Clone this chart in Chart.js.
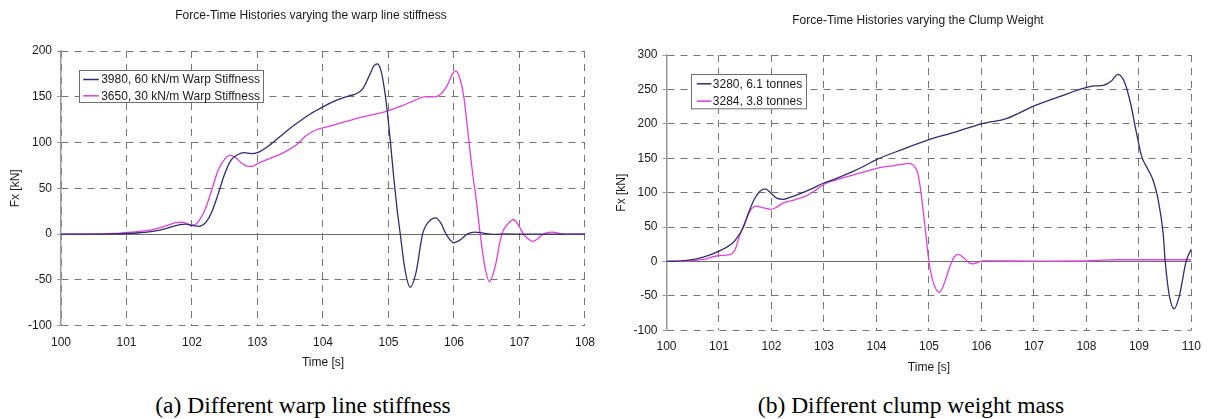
<!DOCTYPE html>
<html>
<head>
<meta charset="utf-8">
<title>Force-Time Histories</title>
<script src="https://cdn.jsdelivr.net/npm/chart.js@4.4.1/dist/chart.umd.min.js"></script>
<style>
  html, body { margin: 0; padding: 0; background: #fff; }
  body { width: 1210px; height: 419px; position: relative; overflow: hidden; }
  .panel { position: absolute; top: 0; width: 605px; }
  #panel-a { left: 0; height: 372px; }
  #panel-b { left: 605px; height: 376px; }
  .caption {
    position: absolute; top: 393px; line-height: 24px;
    font-family: "Liberation Serif", "Times New Roman", serif; font-size: 23.5px;
    color: #000; white-space: nowrap; transform: translateX(-50%);
  }
</style>
</head>
<body>
<div class="panel" id="panel-a"><canvas id="chart-a"></canvas></div>
<div class="panel" id="panel-b"><canvas id="chart-b"></canvas></div>
<div class="caption" style="left:303px">(a) Different warp line stiffness</div>
<div class="caption" style="left:911px">(b) Different clump weight mass</div>

<script>
/* Force-time histories of the mooring line, two panels:
   (a) warp line stiffness, (b) clump weight */

// ---- (a) warp stiffness runs ----
const warpTime60 = [100, 100.5, 100.8, 101.0, 101.2, 101.4, 101.6, 101.8, 101.9, 102.0,
  102.1, 102.2, 102.3, 102.4, 102.5, 102.6, 102.7, 102.8, 102.9, 103.0,
  103.2, 103.4, 103.6, 103.8, 104.0, 104.2, 104.4, 104.5, 104.6, 104.7,
  104.78, 104.83, 104.88, 104.93, 104.98, 105.03, 105.08, 105.13, 105.18, 105.25,
  105.33, 105.42, 105.52, 105.62, 105.72, 105.8, 105.88, 106.0, 106.12, 106.2,
  106.32, 106.45, 106.6, 106.8, 107.0, 107.5, 108.0];
const warpForce60 = [0, 0, 0.2, 0.7, 1.5, 3, 6, 10, 11, 9.5,
  8.5, 12, 24, 44, 66, 81, 87, 89, 88, 89,
  98, 110, 121, 131, 139, 146, 151, 153, 158, 172,
  184, 186, 180, 162, 135, 100, 62, 28, 0, -38,
  -58, -42, 0, 14, 17.8, 12, 0, -9.4, -5, 0,
  2.3, 1, -0.3, 0.2, 0, 0, 0];

const warpTime30 = [100, 100.6, 100.8, 101.0, 101.2, 101.4, 101.6, 101.75, 101.85, 101.95,
  102.03, 102.1, 102.2, 102.3, 102.4, 102.5, 102.58, 102.66, 102.75, 102.85,
  102.92, 103.0, 103.2, 103.4, 103.6, 103.75, 103.9, 104.0, 104.2, 104.4,
  104.6, 104.8, 105.0, 105.2, 105.4, 105.55, 105.7, 105.8, 105.9, 105.97,
  106.03, 106.09, 106.15, 106.23, 106.28, 106.34, 106.4, 106.47, 106.54, 106.62,
  106.73, 106.82, 106.91, 107.0, 107.06, 107.13, 107.2, 107.28, 107.36, 107.44,
  107.51, 107.6, 107.7, 107.85, 108.0];
const warpForce30 = [0, 0.2, 0.7, 1.8, 3, 5, 9, 12.5, 13, 11,
  10, 14, 27, 48, 70, 82, 86, 84, 78, 74,
  74, 77, 83, 89, 98, 108, 114, 116, 120, 124,
  128, 131, 135, 140, 146, 150, 150, 153, 163, 174,
  178, 170, 150, 100, 69, 37, 0, -35, -52, -38,
  0, 11, 15.7, 8, 0, -5, -8, -5, 0, 1.8,
  2.2, 1, -0.3, 0, 0];

// ---- (b) clump weight runs ----
const clumpTime61 = [100, 100.38, 100.7, 101.0, 101.26, 101.36, 101.46, 101.56, 101.67, 101.78,
  101.88, 101.98, 102.1, 102.22, 102.35, 102.5, 102.75, 103.0, 103.25, 103.5,
  103.75, 104.0, 104.5, 105.0, 105.5, 106.0, 106.49, 107.0, 107.5, 107.99,
  108.15, 108.32, 108.47, 108.6, 108.73, 108.86, 108.92, 108.98, 109.05, 109.17,
  109.27, 109.36, 109.46, 109.5, 109.58, 109.67, 109.77, 109.9, 110.0];
const clumpForce61 = [0, 1.5, 6.3, 15, 27, 36, 49, 70, 90, 102,
  105.5, 100, 92, 90.3, 93, 97, 105, 114, 121, 129,
  138, 148, 163, 177, 188, 200, 208, 226, 240, 252.5,
  255, 256, 262, 271.8, 259.7, 223, 199, 177, 153, 134,
  118, 92, 41.7, 0.4, -50, -68.8, -50, 0.5, 18.4];

const clumpTime38 = [100, 100.4, 100.7, 101.0, 101.2, 101.3, 101.39, 101.5, 101.61, 101.7,
  101.85, 101.99, 102.1, 102.21, 102.46, 102.65, 102.85, 103.02, 103.3, 103.53,
  103.8, 104.04, 104.3, 104.47, 104.62, 104.7, 104.78, 104.83, 104.88, 104.94,
  105.0, 105.08, 105.2, 105.3, 105.4, 105.47, 105.55, 105.65, 105.77, 105.84,
  105.93, 106.02, 106.5, 107.0, 108.0, 108.3, 108.6, 110.0];
const clumpForce38 = [0, 0.5, 3, 8.7, 10, 16, 36.8, 58, 75.6, 80.4,
  78, 75.6, 79, 84.3, 90, 95, 104, 113, 120, 125,
  131, 136, 139, 141, 142.5, 140, 130, 110, 80, 40,
  0, -30, -44.7, -30, -6.8, 5, 10.2, 6, -2, -3.4,
  -1.5, 1, 0.7, 0.6, 0.7, 2, 2.5, 2.5];

// ---- axis ranges / ticks ----
const warpTimeRange  = [100, 108];
const warpForceRange = [-100, 200];
const clumpTimeRange  = [100, 110];
const clumpForceRange = [-100, 300];
const timeStep  = 1;
const forceStep = 50;

const NAVY    = '#2e2e70';
const MAGENTA = '#e040e0';
const GRID    = '#767676';
const AXIS    = '#9a9a9a';
const TEXT    = '#1a1a1a';
const FONT    = '"Liberation Sans", Arial, sans-serif';
const DASH    = [7, 6];

Chart.defaults.font.family = FONT;
Chart.defaults.font.size = 12;
Chart.defaults.color = TEXT;

function toPoints(ts, fs) {
  return ts.map((t, i) => ({ x: t, y: fs[i] }));
}

// title above the plot + boxed legend inside the plot area
const panelDecor = {
  id: 'panelDecor',
  afterDraw(chart, args, o) {
    const { ctx, chartArea: ca } = chart;
    ctx.save();
    ctx.font = '12px ' + FONT;
    ctx.fillStyle = TEXT;
    ctx.textAlign = 'center';
    ctx.textBaseline = 'middle';
    ctx.fillText(o.title, (ca.left + ca.right) / 2 + o.titleDx, o.titleY);

    const sets = chart.data.datasets;
    const textW = Math.max(...sets.map(d => ctx.measureText(d.label).width));
    const bx = Math.round(ca.left + o.legendDx) + 0.5;
    const by = Math.round(ca.top + o.legendDy) + 0.5;
    const bw = Math.round(o.textX + textW + 4);
    ctx.fillStyle = '#fff';
    ctx.fillRect(bx, by, bw, o.boxH);
    ctx.strokeStyle = '#6e6e6e';
    ctx.lineWidth = 1;
    ctx.strokeRect(bx, by, bw, o.boxH);
    ctx.textAlign = 'left';
    sets.forEach((d, i) => {
      const y = by + o.rowTop + i * o.rowH;
      ctx.strokeStyle = d.borderColor;
      ctx.lineWidth = 1.5;
      ctx.beginPath();
      ctx.moveTo(bx + o.lineX0, y);
      ctx.lineTo(bx + o.lineX1, y);
      ctx.stroke();
      ctx.fillStyle = TEXT;
      ctx.fillText(d.label, bx + o.textX, y + 0.5);
    });
    ctx.restore();
  }
};

function makeOptions(c) {
  const isZero = ctx => ctx.tick && ctx.tick.value === 0;
  return {
    responsive: true,
    maintainAspectRatio: false,
    animation: false,
    layout: { padding: c.padding },
    elements: {
      point: { radius: 0 },
      line: { borderWidth: 1.3, cubicInterpolationMode: 'monotone' }
    },
    plugins: {
      legend: { display: false },
      tooltip: { enabled: false },
      panelDecor: c.decor
    },
    scales: {
      x: {
        type: 'linear',
        min: c.xRange[0], max: c.xRange[1],
        ticks: { stepSize: timeStep, padding: c.xTickPad, autoSkip: false, maxRotation: 0 },
        grid: { color: GRID, lineWidth: 1, drawTicks: false },
        border: { display: false, dash: DASH },
        title: { display: true, text: 'Time [s]', padding: 0, font: { size: 12 } },
        afterFit: s => { s.height = c.xAxisH; }
      },
      y: {
        type: 'linear',
        min: c.yRange[0], max: c.yRange[1],
        ticks: { stepSize: forceStep, padding: 5 },
        grid: {
          color: ctx => isZero(ctx) ? '#6a6a6a' : GRID,
          lineWidth: 1,
          drawTicks: true, tickLength: 4, tickColor: AXIS
        },
        border: { display: true, color: AXIS, width: 1.5, dash: ctx => isZero(ctx) ? [] : DASH },
        title: { display: true, text: 'Fx [kN]', padding: { top: c.yTitlePad, bottom: 0 }, font: { size: 12 } },
        afterFit: s => { s.width = c.yAxisW; }
      }
    }
  };
}

new Chart(document.getElementById('chart-a'), {
  type: 'line',
  data: {
    datasets: [
      { label: '3980, 60 kN/m Warp Stiffness', data: toPoints(warpTime60, warpForce60), borderColor: NAVY },
      { label: '3650, 30 kN/m Warp Stiffness', data: toPoints(warpTime30, warpForce30), borderColor: MAGENTA }
    ]
  },
  options: makeOptions({
    xRange: warpTimeRange, yRange: warpForceRange,
    padding: { left: 0, top: 51, right: 18, bottom: 2.3 },
    xAxisH: 44, yAxisW: 61, xTickPad: 10, yTitlePad: 8,
    decor: {
      title: 'Force-Time Histories varying the warp line stiffness', titleDx: -12, titleY: 16,
      legendDx: 18, legendDy: 19, boxH: 32, rowTop: 9, rowH: 16.3,
      lineX0: 3.7, lineX1: 19.3, textX: 21.7
    }
  }),
  plugins: [panelDecor]
});

new Chart(document.getElementById('chart-b'), {
  type: 'line',
  data: {
    datasets: [
      { label: '3280, 6.1 tonnes', data: toPoints(clumpTime61, clumpForce61), borderColor: NAVY },
      { label: '3284, 3.8 tonnes', data: toPoints(clumpTime38, clumpForce38), borderColor: MAGENTA }
    ]
  },
  options: makeOptions({
    xRange: clumpTimeRange, yRange: clumpForceRange,
    padding: { left: 0, top: 55, right: 14.5, bottom: 0.8 },
    xAxisH: 44.9, yAxisW: 61.5, xTickPad: 9, yTitlePad: 9,
    decor: {
      title: 'Force-Time Histories varying the Clump Weight', titleDx: -11, titleY: 21,
      legendDx: 24.2, legendDy: 19, boxH: 34.3, rowTop: 9.3, rowH: 17.4,
      lineX0: 5.3, lineX1: 20, textX: 21.3
    }
  }),
  plugins: [panelDecor]
});
</script>
</body>
</html>
